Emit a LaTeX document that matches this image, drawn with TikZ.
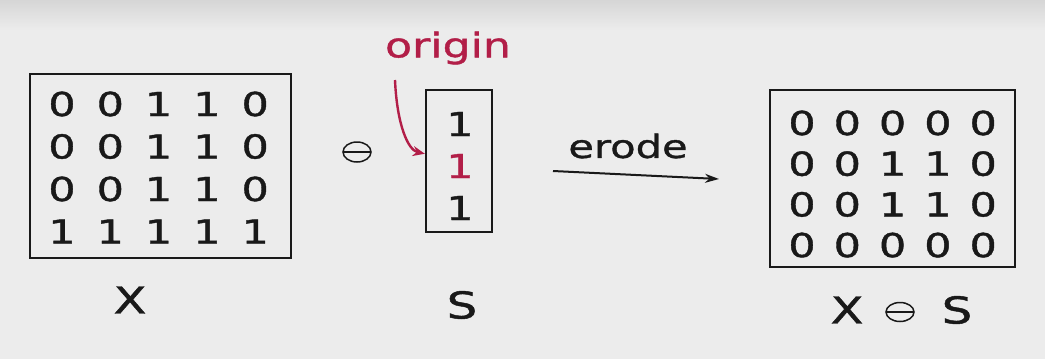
\documentclass[tikz,border=0pt]{standalone}
\usepackage{fontspec}
\setmainfont{DejaVu Sans}
\newfontfamily\widesans[FakeStretch=1.3, FakeBold=1.2]{DejaVu Sans}
\usetikzlibrary{arrows.meta}
\definecolor{paper}{RGB}{236,236,236}
\definecolor{paperdark}{RGB}{214,214,214}
\definecolor{originred}{RGB}{178,30,72}
\definecolor{ink}{RGB}{25,25,25}
\tikzset{
  digit/.style={inner sep=0pt, text=ink, font=\widesans\fontsize{33}{33}\selectfont},
  lbl/.style={inner sep=0pt, text=ink, font=\widesans\fontsize{37}{37}\selectfont},
  frame/.style={draw=ink, line width=2.4pt, inner sep=0pt},
  ominus/.style={draw=ink, line width=1.5pt},
}
\newcommand{\drawominus}[4]{%
  \draw[ominus] (#1,#2) ellipse [x radius=#3, y radius=#4];
  \draw[ominus] (#1-#3,#2) -- (#1+#3,#2);}
\begin{document}
\begin{tikzpicture}[x=1pt, y=-1pt]
  % paper
  \fill[paper] (0,0) rectangle (1045,359);
  \shade[top color=paperdark, bottom color=paper] (0,0) rectangle (1045,30);
  \useasboundingbox (0,0) rectangle (1045,359);

  % input image X
  \node[frame, minimum width=261, minimum height=184] (Xbox) at (160.5,166) {};
  \foreach \row/\vals [count=\r from 0] in {0/{0,0,1,1,0},1/{0,0,1,1,0},2/{0,0,1,1,0},3/{1,1,1,1,1}} {
    \foreach \v [count=\c from 0] in \vals {
      \node[digit] (x-\r-\c) at (62+48.3*\c, 104+42.5*\r) {\v};
    }
  }
  \node[lbl] (Xlabel) at (130,300) {X};

  % erosion operator
  \drawominus{357}{152}{14}{10}

  % structuring element S
  \node[frame, minimum width=66, minimum height=142] (Sbox) at (459,161) {};
  \node[digit] (s-0) at (460,124) {1};
  \node[digit, text=originred] (s-1) at (460,166) {1};
  \node[digit] (s-2) at (460,208) {1};
  \node[lbl] (Slabel) at (462,305) {S};

  % origin marker
  \node[inner sep=0pt, text=originred, font=\widesans\fontsize{34}{34}\selectfont] (origin) at (448,48) {origin};
  \coordinate (ostart) at (395,80);
  \draw[originred, line width=2.4pt, -{Stealth[length=12pt, width=10pt]}]
    (ostart) .. controls (397,125) and (408,150) .. (Sbox.west |- s-1.north);

  % erode arrow
  \node[lbl, font=\widesans\fontsize{32}{32}\selectfont] (erode) at (628,146) {erode};
  \coordinate (estart) at (553,171);
  \coordinate (eend) at (719,179);
  \draw[ink, line width=2pt, -{Stealth[length=14pt, width=9pt]}] (estart) -- (eend);

  % result X erode S
  \node[frame, minimum width=245, minimum height=177] (Rbox) at (892.5,178.5) {};
  \foreach \row/\vals [count=\r from 0] in {0/{0,0,0,0,0},1/{0,0,1,1,0},2/{0,0,1,1,0},3/{0,0,0,0,0}} {
    \foreach \v [count=\c from 0] in \vals {
      \node[digit] (r-\r-\c) at (802+45.3*\c, 123+40.7*\r) {\v};
    }
  }
  \node[lbl] (RX) at (847,310) {X};
  \drawominus{900}{312}{14}{9.5}
  \node[lbl] (RS) at (957,310) {S};
\end{tikzpicture}
\end{document}
